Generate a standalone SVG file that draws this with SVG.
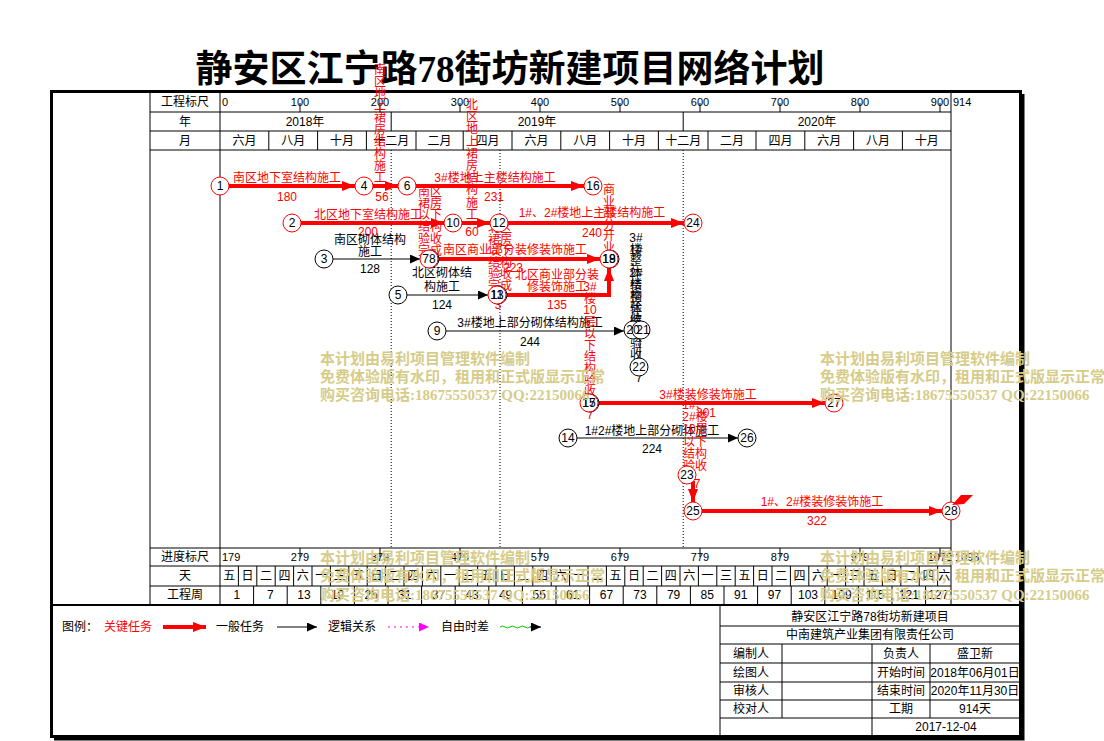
<svg xmlns="http://www.w3.org/2000/svg" width="1104" height="741" viewBox="0 0 1104 741">
<style>
text{font-family:"Liberation Sans","Noto Sans CJK SC",sans-serif;font-size:12px;fill:#000}
.c{text-anchor:middle}
.s{font-size:11px}
.r{fill:#ff0000;text-anchor:middle}
.b{text-anchor:middle}
.title{font-family:"Liberation Serif","Noto Sans CJK SC",serif;font-size:37px;font-weight:bold;text-anchor:middle}
.wm{font-family:"Liberation Serif","Noto Sans CJK SC",serif;font-size:15px;font-weight:bold;fill:#d6cc8a}
.g{stroke:#000;stroke-width:1;fill:none}
.dot{stroke:#000;stroke-width:1;stroke-dasharray:1,2;fill:none}
.red{stroke:#ff0000;stroke-width:4;fill:none}
.blk{stroke:#000;stroke-width:1;fill:none}
.nr{fill:#fff;stroke:#ff0000;stroke-width:1}
.nb{fill:#fff;stroke:#000;stroke-width:1}
</style>
<defs>
<marker id="ar" markerUnits="userSpaceOnUse" markerWidth="14" markerHeight="10" refX="13" refY="5" orient="auto"><path d="M0,0 L13,5 L0,10 z" fill="#ff0000"/></marker>
<marker id="ab" markerUnits="userSpaceOnUse" markerWidth="11" markerHeight="9" refX="10" refY="4.5" orient="auto"><path d="M0,0 L10,4.5 L0,9 z" fill="#000"/></marker>
<marker id="am" markerUnits="userSpaceOnUse" markerWidth="11" markerHeight="9" refX="10" refY="4.5" orient="auto"><path d="M0,0 L10,4.5 L0,9 z" fill="#ff00ff"/></marker>
</defs>
<rect width="1104" height="741" fill="#fff"/>
<text class="title" x="510" y="82">静安区江宁路78街坊新建项目网络计划</text>

<g id="frame">
<rect x="51.5" y="91.5" width="969" height="645" fill="none" stroke="#000" stroke-width="3"/>
<path d="M1023,94 V739 H54" fill="none" stroke="#000" stroke-width="3"/>
<path d="M53,605 H1019" stroke="#000" stroke-width="2"/>
</g>

<g id="grid">
<path class="g" d="M150,93 V605 M220,93 V605 M951,93 V605 M150,112 H951 M150,131 H951 M150,150 H951 M150,548 H951 M150,566 H951 M150,586 H951"/>
<path class="g" d="M391.2,112 V131 M683.2,112 V131"/>
<path class="g" d="M268.8,131V150M317.6,131V150M366.4,131V150M416,131V150M463.2,131V150M512,131V150M560.8,131V150M609.6,131V150M658.4,131V150M708,131V150M756,131V150M804.8,131V150M853.6,131V150M902.4,131V150"/>
<path class="g" d="M300,103V112M380,103V112M460,103V112M540,103V112M620,103V112M700,103V112M780,103V112M860,103V112M940,103V112"/>
<path class="g" d="M300,548V557M380,548V557M460,548V557M540,548V557M620,548V557M700,548V557M780,548V557M860,548V557M940,548V557"/>
<path class="g" d="M238.4,566V586M256.8,566V586M275.2,566V586M293.6,566V586M312,566V586M330.4,566V586M348.8,566V586M367.2,566V586M385.6,566V586M404,566V586M422.4,566V586M440.8,566V586M459.2,566V586M477.6,566V586M496,566V586M514.4,566V586M532.8,566V586M551.2,566V586M569.6,566V586M588,566V586M606.4,566V586M624.8,566V586M643.2,566V586M661.6,566V586M680,566V586M698.4,566V586M716.8,566V586M735.2,566V586M753.6,566V586M772,566V586M790.4,566V586M808.8,566V586M827.2,566V586M845.6,566V586M864,566V586M882.4,566V586M900.8,566V586M919.2,566V586M937.6,566V586"/>
<path class="g" d="M253.6,586V605M287.2,586V605M320.8,586V605M354.4,586V605M388,586V605M421.6,586V605M455.2,586V605M488.8,586V605M522.4,586V605M556,586V605M589.6,586V605M623.2,586V605M656.8,586V605M690.4,586V605M724,586V605M757.6,586V605M791.2,586V605M824.8,586V605M858.4,586V605M892,586V605M925.6,586V605"/>
<path class="dot" d="M391.2,150 V548 M500,150 V548 M683.2,150 V548"/>

<text class="c" x="185" y="106">工程标尺</text>
<text class="c" x="185" y="126">年</text>
<text class="c" x="185" y="145">月</text>
<text class="c" x="185" y="561">进度标尺</text>
<text class="c" x="185" y="580">天</text>
<text class="c" x="185" y="599">工程周</text>

<text class="s" x="222" y="106">0</text>
<text class="s c" x="300" y="106">100</text><text class="s c" x="380" y="106">200</text><text class="s c" x="460" y="106">300</text><text class="s c" x="540" y="106">400</text><text class="s c" x="620" y="106">500</text><text class="s c" x="700" y="106">600</text><text class="s c" x="780" y="106">700</text><text class="s c" x="860" y="106">800</text><text class="s c" x="940" y="106">900</text>
<text class="s" x="953" y="106">914</text>

<text class="c" x="305" y="126">2018年</text>
<text class="c" x="537" y="126">2019年</text>
<text class="c" x="817" y="126">2020年</text>

<text class="c" x="244.4" y="145">六月</text><text class="c" x="293.2" y="145">八月</text><text class="c" x="342" y="145">十月</text><text class="c" x="391.2" y="145">十二月</text><text class="c" x="439.6" y="145">二月</text><text class="c" x="487.6" y="145">四月</text><text class="c" x="536.4" y="145">六月</text><text class="c" x="585.2" y="145">八月</text><text class="c" x="634" y="145">十月</text><text class="c" x="683.2" y="145">十二月</text><text class="c" x="732" y="145">二月</text><text class="c" x="780.4" y="145">四月</text><text class="c" x="829.2" y="145">六月</text><text class="c" x="878" y="145">八月</text><text class="c" x="926.8" y="145">十月</text>

<text class="s" x="222" y="561">179</text>
<text class="s c" x="300" y="561">279</text><text class="s c" x="380" y="561">379</text><text class="s c" x="460" y="561">479</text><text class="s c" x="540" y="561">579</text><text class="s c" x="620" y="561">679</text><text class="s c" x="700" y="561">779</text><text class="s c" x="780" y="561">879</text><text class="s c" x="860" y="561">979</text><text class="s c" x="940" y="561">1079</text>
<text class="s" x="955" y="561">1093</text>

<g class="days">
<text class="c" x="229.2" y="580">五</text><text class="c" x="247.6" y="580">日</text><text class="c" x="266" y="580">二</text><text class="c" x="284.4" y="580">四</text><text class="c" x="302.8" y="580">六</text><text class="c" x="321.2" y="580">一</text><text class="c" x="339.6" y="580">三</text>
<text class="c" x="358" y="580">五</text><text class="c" x="376.4" y="580">日</text><text class="c" x="394.8" y="580">二</text><text class="c" x="413.2" y="580">四</text><text class="c" x="431.6" y="580">六</text><text class="c" x="450" y="580">一</text><text class="c" x="468.4" y="580">三</text>
<text class="c" x="486.8" y="580">五</text><text class="c" x="505.2" y="580">日</text><text class="c" x="523.6" y="580">二</text><text class="c" x="542" y="580">四</text><text class="c" x="560.4" y="580">六</text><text class="c" x="578.8" y="580">一</text><text class="c" x="597.2" y="580">三</text>
<text class="c" x="615.6" y="580">五</text><text class="c" x="634" y="580">日</text><text class="c" x="652.4" y="580">二</text><text class="c" x="670.8" y="580">四</text><text class="c" x="689.2" y="580">六</text><text class="c" x="707.6" y="580">一</text><text class="c" x="726" y="580">三</text>
<text class="c" x="744.4" y="580">五</text><text class="c" x="762.8" y="580">日</text><text class="c" x="781.2" y="580">二</text><text class="c" x="799.6" y="580">四</text><text class="c" x="818" y="580">六</text><text class="c" x="836.4" y="580">一</text><text class="c" x="854.8" y="580">三</text>
<text class="c" x="873.2" y="580">五</text><text class="c" x="891.6" y="580">日</text><text class="c" x="910" y="580">二</text><text class="c" x="928.4" y="580">四</text><text class="c" x="944.3" y="580">六</text>
</g>
<g class="weeks">
<text class="c" x="236.8" y="599">1</text><text class="c" x="270.4" y="599">7</text><text class="c" x="304" y="599">13</text><text class="c" x="337.6" y="599">19</text><text class="c" x="371.2" y="599">25</text><text class="c" x="404.8" y="599">31</text><text class="c" x="438.4" y="599">37</text><text class="c" x="472" y="599">43</text><text class="c" x="505.6" y="599">49</text><text class="c" x="539.2" y="599">55</text><text class="c" x="572.8" y="599">61</text><text class="c" x="606.4" y="599">67</text><text class="c" x="640" y="599">73</text><text class="c" x="673.6" y="599">79</text><text class="c" x="707.2" y="599">85</text><text class="c" x="740.8" y="599">91</text><text class="c" x="774.4" y="599">97</text><text class="c" x="808" y="599">103</text><text class="c" x="841.6" y="599">109</text><text class="c" x="875.2" y="599">115</text><text class="c" x="908.8" y="599">121</text><text class="c" x="938.3" y="599">127</text>
</g>
</g>

<g id="connectors">
<path class="red" d="M229,186 H355" marker-end="url(#ar)"/>
<path class="red" d="M373,186 H398" marker-end="url(#ar)"/>
<path class="red" d="M416,186 H584" marker-end="url(#ar)"/>
<path class="red" d="M301,223 H444" marker-end="url(#ar)"/>
<path class="red" d="M462,223 H490" marker-end="url(#ar)"/>
<path class="red" d="M508,223 H684" marker-end="url(#ar)"/>
<path class="blk" d="M333,259 H420" marker-end="url(#ab)"/>
<path class="red" d="M438,259 H600" marker-end="url(#ar)"/>
<path class="blk" d="M407,295 H488" marker-end="url(#ab)"/>
<path class="red" d="M506,295 H609 V268" marker-end="url(#ar)"/>
<path class="blk" d="M446,331 H624" marker-end="url(#ab)"/>
<path class="blk" d="M640,339 V358"/>
<path class="red" d="M598,403 H825" marker-end="url(#ar)"/>
<path class="blk" d="M577,438 H738" marker-end="url(#ab)"/>
<path class="red" d="M693,481 V502" marker-end="url(#ar)"/>
<path class="red" d="M702,511 H942" marker-end="url(#ar)"/>
</g>

<g id="labels">
<text class="r" x="287" y="182">南区地下室结构施工</text><text class="r" x="287" y="201">180</text>
<text class="r" x="382" y="201">56</text>
<text class="r" x="495" y="182">3#楼地上主楼结构施工</text><text class="r" x="494" y="201">231</text>
<text class="r" x="368" y="219">北区地下室结构施工</text><text class="r" x="368" y="236">200</text>
<text class="r" x="472" y="236">60</text>
<text class="r" x="592" y="217">1#、2#楼地上主楼结构施工</text><text class="r" x="592" y="237">240</text>
<text class="b" x="370" y="244">南区砌体结构</text><text class="b" x="370" y="256">施工</text><text class="b" x="370" y="273">128</text>
<text class="r" x="515" y="254">南区商业部分装修装饰施工</text><text class="r" x="513" y="272">223</text>
<text class="b" x="442" y="277">北区砌体结</text><text class="b" x="442" y="291">构施工</text><text class="b" x="442" y="309">124</text>
<text class="r" x="557" y="279">北区商业部分装</text><text class="r" x="557" y="291">修装饰施工</text><text class="r" x="557" y="309">135</text>
<text class="r" x="498" y="309">3</text>
<text class="b" x="530" y="327">3#楼地上部分砌体结构施工</text><text class="b" x="530" y="346">244</text>
<text class="b" x="639" y="382">7</text>
<text class="r" x="708" y="399">3#楼装修装饰施工</text><text class="r" x="706" y="417">301</text>
<text class="r" x="590" y="419">7</text>
<text class="b" x="652" y="435">1#2#楼地上部分砌体施工</text><text class="b" x="652" y="453">224</text>
<text class="r" x="697" y="488">7</text>
<text class="r" x="822" y="506">1#、2#楼装修装饰施工</text><text class="r" x="817" y="525">322</text>

<text class="r" x="380" y="74"><tspan x="380">南</tspan><tspan x="380" dy="12">区</tspan><tspan x="380" dy="12">地</tspan><tspan x="380" dy="12">上</tspan><tspan x="380" dy="12">裙</tspan><tspan x="380" dy="12">房</tspan><tspan x="380" dy="12">结</tspan><tspan x="380" dy="12">构</tspan><tspan x="380" dy="12">施</tspan><tspan x="380" dy="12">工</tspan></text>
<text class="r" x="472" y="109"><tspan x="472">北</tspan><tspan x="472" dy="12.2">区</tspan><tspan x="472" dy="12.2">地</tspan><tspan x="472" dy="12.2">上</tspan><tspan x="472" dy="12.2">裙</tspan><tspan x="472" dy="12.2">房</tspan><tspan x="472" dy="12.2">结</tspan><tspan x="472" dy="12.2">构</tspan><tspan x="472" dy="12.2">施</tspan><tspan x="472" dy="12.2">工</tspan></text>
<text class="r" x="430" y="196"><tspan x="430">南区</tspan><tspan x="430" dy="11.7">裙房</tspan><tspan x="430" dy="11.7">以下</tspan><tspan x="430" dy="11.7">结构</tspan><tspan x="430" dy="11.7">验收</tspan><tspan x="430" dy="11.7">完成</tspan></text>
<text class="r" x="500" y="232"><tspan x="500">北区</tspan><tspan x="500" dy="11.5">裙房</tspan><tspan x="500" dy="11.5">以下</tspan><tspan x="500" dy="11.5">结构</tspan><tspan x="500" dy="11.5">验收</tspan><tspan x="500" dy="11.5">完成</tspan></text>
<text class="r" x="609" y="194"><tspan x="609">商</tspan><tspan x="609" dy="11.6">业</tspan><tspan x="609" dy="11.6">部</tspan><tspan x="609" dy="11.6">分</tspan><tspan x="609" dy="11.6">开</tspan><tspan x="609" dy="11.6">业</tspan></text>
<text class="r" x="590" y="291"><tspan x="590">3#</tspan><tspan x="590" dy="11.7">楼</tspan><tspan x="590" dy="11.7">10</tspan><tspan x="590" dy="11.7">层</tspan><tspan x="590" dy="11.7">以</tspan><tspan x="590" dy="11.7">下</tspan><tspan x="590" dy="11.7">结</tspan><tspan x="590" dy="11.7">构</tspan><tspan x="590" dy="11.7">验</tspan><tspan x="590" dy="11.7">收</tspan></text>
<text class="r" x="695" y="409"><tspan x="695">1#、</tspan><tspan x="695" dy="12.2">2#楼</tspan><tspan x="695" dy="12.2">10层</tspan><tspan x="695" dy="12.2">以下</tspan><tspan x="695" dy="12.2">结构</tspan><tspan x="695" dy="12.2">验收</tspan></text>
<text class="b" x="636" y="242"><tspan x="636">3#</tspan><tspan x="636" dy="11.7">楼</tspan><tspan x="636" dy="11.7">整</tspan><tspan x="636" dy="11.7">体</tspan><tspan x="636" dy="11.7">结</tspan><tspan x="636" dy="11.7">构</tspan><tspan x="636" dy="11.7">验</tspan><tspan x="636" dy="11.7">收</tspan></text>
<text class="b" x="636" y="254"><tspan x="636">1#</tspan><tspan x="636" dy="11.7">、</tspan><tspan x="636" dy="11.7">2#</tspan><tspan x="636" dy="11.7">楼</tspan><tspan x="636" dy="11.7">整</tspan><tspan x="636" dy="11.7">体</tspan><tspan x="636" dy="11.7">结</tspan><tspan x="636" dy="11.7">构</tspan><tspan x="636" dy="11.7">验</tspan><tspan x="636" dy="11.7">收</tspan></text>
</g>

<g id="n1"><circle class="nr" cx="220" cy="186" r="9"/><text class="c" x="220" y="190">1</text></g>
<g id="n2"><circle class="nr" cx="292" cy="223" r="9"/><text class="c" x="292" y="227">2</text></g>
<g id="n3"><circle class="nb" cx="324" cy="259" r="9"/><text class="c" x="324" y="263">3</text></g>
<g id="n4"><circle class="nr" cx="364" cy="186" r="9"/><text class="c" x="364" y="190">4</text></g>
<g id="n5"><circle class="nb" cx="398" cy="295" r="9"/><text class="c" x="398" y="299">5</text></g>
<g id="n6"><circle class="nr" cx="407" cy="186" r="9"/><text class="c" x="407" y="190">6</text></g>
<g id="n7-8"><circle class="nb" cx="430" cy="259" r="9"/><circle class="nr" cx="429" cy="259" r="9" fill="none"/><text class="c" x="429" y="263">78</text></g>
<g id="n9"><circle class="nb" cx="437" cy="331" r="9"/><text class="c" x="437" y="335">9</text></g>
<g id="n10"><circle class="nr" cx="453" cy="223" r="9"/><text class="c" x="453" y="227">10</text></g>
<g id="n11-13"><circle class="nb" cx="498" cy="295" r="9"/><circle class="nr" cx="497" cy="295" r="9" fill="none"/><text class="c" x="497" y="299">13</text><text class="c" x="497" y="299">11</text></g>
<g id="n12"><circle class="nr" cx="499" cy="223" r="9"/><text class="c" x="499" y="227">12</text></g>
<g id="n14"><circle class="nb" cx="568" cy="438" r="9"/><text class="c" x="568" y="442">14</text></g>
<g id="n15-17"><circle class="nb" cx="590" cy="403" r="9"/><circle class="nr" cx="589" cy="403" r="9" fill="none"/><text class="c" x="589" y="407">15</text><text class="c" x="589" y="407">17</text></g>
<g id="n16"><circle class="nr" cx="593" cy="186" r="9"/><text class="c" x="593" y="190">16</text></g>
<g id="n18-19"><circle class="nb" cx="610" cy="259" r="9"/><circle class="nr" cx="609" cy="259" r="9" fill="none"/><text class="c" x="609" y="263">18</text><text class="c" x="609" y="263">19</text></g>
<g id="n20-21"><circle class="nb" cx="633" cy="330" r="9"/><circle class="nb" cx="641" cy="330" r="9"/><text class="c" x="633" y="334">20</text><text class="c" x="643" y="334">21</text></g>
<g id="n22"><circle class="nb" cx="639" cy="367" r="9"/><text class="c" x="639" y="371">22</text></g>
<g id="n23"><circle class="nr" cx="687" cy="475" r="9"/><text class="c" x="687" y="479">23</text></g>
<g id="n24"><circle class="nr" cx="693" cy="223" r="9"/><text class="c" x="693" y="227">24</text></g>
<g id="n25"><circle class="nr" cx="693" cy="511" r="9"/><text class="c" x="693" y="515">25</text></g>
<g id="n26"><circle class="nb" cx="747" cy="438" r="9"/><text class="c" x="747" y="442">26</text></g>
<g id="n27"><circle class="nr" cx="834" cy="403" r="9"/><text class="c" x="834" y="407">27</text></g>
<g id="n28"><circle class="nr" cx="951" cy="511" r="9"/><text class="c" x="951" y="515">28</text><polygon points="952,505 961,495 973,495 964,504" fill="#ff0000"/></g>

<g id="legend">
<text x="62" y="631">图例：</text>
<text x="104" y="631" style="fill:#ff0000">关键任务</text>
<path class="red" d="M163,627 H206" marker-end="url(#ar)"/>
<text x="216" y="631">一般任务</text>
<path class="blk" d="M277,627 H317" marker-end="url(#ab)"/>
<text x="328" y="631">逻辑关系</text>
<path d="M388,627 H429" stroke="#ff00ff" stroke-width="1" stroke-dasharray="2,4" fill="none" marker-end="url(#am)"/>
<text x="441" y="631">自由时差</text>
<path d="M500,627 q2.5,-2 5,0 t5,0 t5,0 t5,0 t5,0 t5,0" stroke="#00cc00" stroke-width="1" fill="none"/>
<path d="M530,627 H541" class="blk" marker-end="url(#ab)"/>
</g>

<g id="titleblock">
<path class="g" d="M720,605 V737 M720,626 H1019 M720,644 H1019 M720,663 H1019 M720,682 H1019 M720,700 H1019 M720,718 H1019 M782,644 V718 M872,644 V737 M930,644 V718"/>
<text class="c" x="870" y="621">静安区江宁路78街坊新建项目</text>
<text class="c" x="870" y="639">中南建筑产业集团有限责任公司</text>
<text class="c" x="751" y="658">编制人</text><text class="c" x="901" y="658">负责人</text><text class="c" x="975" y="658">盛卫新</text>
<text class="c" x="751" y="677">绘图人</text><text class="c" x="901" y="677">开始时间</text><text class="c" x="975" y="677">2018年06月01日</text>
<text class="c" x="751" y="695">审核人</text><text class="c" x="901" y="695">结束时间</text><text class="c" x="975" y="695">2020年11月30日</text>
<text class="c" x="751" y="713">校对人</text><text class="c" x="901" y="713">工期</text><text class="c" x="975" y="713">914天</text>
<text class="c" x="946" y="731">2017-12-04</text>
</g>

<g id="watermark">
<text class="wm" x="320" y="364">本计划由易利项目管理软件编制</text>
<text class="wm" x="320" y="382">免费体验版有水印，租用和正式版显示正常</text>
<text class="wm" x="320" y="400">购买咨询电话:18675550537 QQ:22150066</text>
<text class="wm" x="820" y="364">本计划由易利项目管理软件编制</text>
<text class="wm" x="820" y="382">免费体验版有水印，租用和正式版显示正常</text>
<text class="wm" x="820" y="400">购买咨询电话:18675550537 QQ:22150066</text>
<text class="wm" x="320" y="563">本计划由易利项目管理软件编制</text>
<text class="wm" x="320" y="581">免费体验版有水印，租用和正式版显示正常</text>
<text class="wm" x="320" y="600">购买咨询电话:18675550537 QQ:22150066</text>
<text class="wm" x="820" y="563">本计划由易利项目管理软件编制</text>
<text class="wm" x="820" y="581">免费体验版有水印，租用和正式版显示正常</text>
<text class="wm" x="820" y="600">购买咨询电话:18675550537 QQ:22150066</text>
</g>
</svg>
